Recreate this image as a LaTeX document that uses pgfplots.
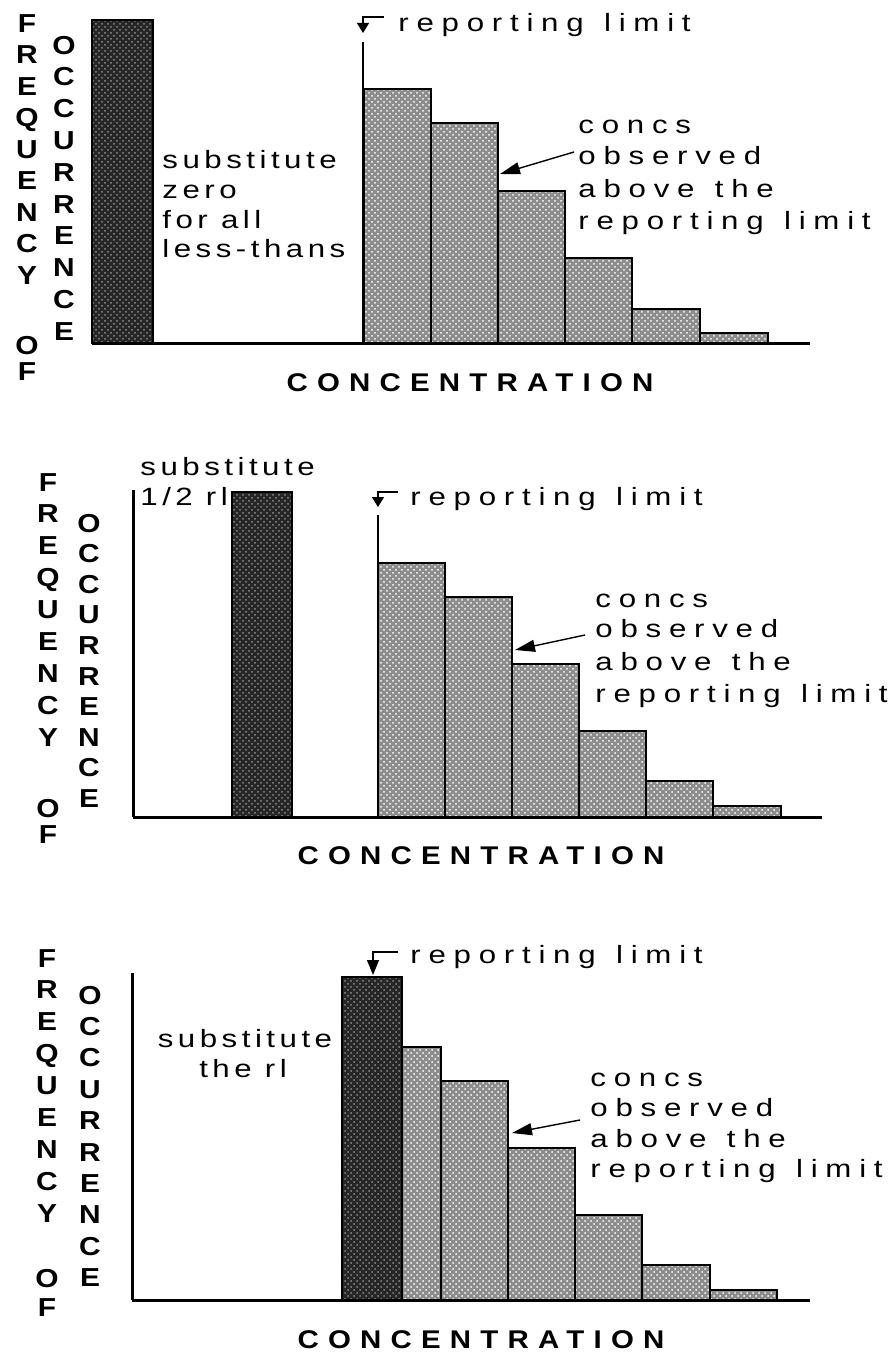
\documentclass[border=0pt]{standalone}
\usepackage{pgfplots}
\pgfplotsset{compat=1.18}
\usepackage{fontspec}
\setmainfont{Liberation Sans}[BoldFont={Liberation Sans Bold}]
\usetikzlibrary{patterns,arrows.meta}

% letter-spaced, slightly widened faces, as in the original figure
\newfontfamily\spA{Liberation Sans}[LetterSpace=31,FakeStretch=1.25]
\newfontfamily\spB{Liberation Sans}[LetterSpace=18,FakeStretch=1.25]
\newfontfamily\spC{Liberation Sans}[LetterSpace=36,FakeStretch=1.15,BoldFont={Liberation Sans Bold}]
\newfontfamily\spD{Liberation Sans}[FakeStretch=1.15,BoldFont={Liberation Sans Bold}]
\newcommand\rt{\fontsize{12.5}{14}\selectfont}
\newcommand\lbl{\spD\bfseries\fontsize{13}{15}\selectfont}
\newcommand\ws{\hspace{2pt} }

% text line inside an axis (axis units = image pixels)
\newcommand\tx[4][spA]{\node[anchor=base west,inner sep=0,font=\csname #1\endcsname\rt] at (axis cs:#2,#3) {#4};}
% stacked y label letters (image pixels, y downwards)
\newcommand\vlab[4]{\foreach \l [count=\i from 0] in {#4} {\node[anchor=base,inner sep=0,font=\lbl] at ({#1*0.5pt},{-(#2+9+\i*#3)*0.5pt}) {\l};}}

\tikzset{
  rlarrow/.style={line width=0.6pt, -{Triangle[length=5pt,width=6pt]}},
  obsarrow/.style={line width=0.7pt, -{Triangle[length=10pt,width=6pt]}},
  conc/.style={anchor=base, inner sep=0, font=\spC\bfseries\fontsize{12.8}{14}\selectfont},
}
\pgfplotsset{
  panel/.style={scale only axis, clip=false, anchor=south west,
    ymin=0, ymax=327, height=163.5pt,
    axis x line=bottom, axis y line=left,
    axis line style={-, line width=1.5pt},
    xtick=\empty, ytick=\empty},
  lt/.style={ybar interval, draw=black, line width=0.75pt, fill=black!45,
    postaction={pattern=crosshatch dots, pattern color=white}},
  dk/.style={ybar interval, draw=black, line width=0.75pt, fill=black!85,
    postaction={pattern=crosshatch dots, pattern color=black!45}},
}

\begin{document}
\begin{tikzpicture}
\useasboundingbox (0,0) rectangle (447.5pt,-678pt);

% ---------- panel 1: substitute zero ----------
\begin{axis}[panel, at={(46pt,-171.5pt)}, width=359pt,
  xmin=-28, xmax=690, axis y line=none]
  \addplot[dk] coordinates {(-28,323) (33,323)};
  \addplot[lt] coordinates {(244,254) (311,220) (378,152) (445,85) (512,34) (580,10) (648,10)};
  \draw[line width=0.6pt] (axis cs:243,0) -- (axis cs:243,301);
  \draw[rlarrow] (axis cs:264,326) -- (axis cs:243,326) -- (axis cs:243,310);
  \tx{278}{311}{reporting\ws limit}
  \tx[spB]{42}{175}{substitute}
  \tx[spB]{42}{145}{zero}
  \tx[spB]{42}{115}{for all}
  \tx[spB]{42}{86}{less-thans}
  \tx{458}{210}{concs}
  \tx{458}{179}{observed}
  \tx{458}{146}{above\ws the}
  \tx{458}{114}{reporting\ws limit}
  \draw[obsarrow] (axis cs:454,191) -- (axis cs:380,169);
  \node[conc] at (axis cs:350,-48) {CONCENTRATION};
\end{axis}
\vlab{27}{23}{31.5}{F,R,E,Q,U,E,N,C,Y}
\vlab{27}{345}{26}{O,F}
\vlab{64}{45}{31.8}{O,C,C,U,R,R,E,N,C,E}

% ---------- panel 2: substitute 1/2 rl ----------
\begin{axis}[panel, at={(66.5pt,-408.5pt)}, width=344.5pt,
  xmin=0, xmax=689]
  \addplot[dk] coordinates {(99,325) (159,325)};
  \addplot[lt] coordinates {(245,254) (312,220) (379,153) (446,86) (513,36) (580,11) (648,11)};
  \draw[line width=0.6pt] (axis cs:245,0) -- (axis cs:245,302);
  \draw[rlarrow] (axis cs:265,325) -- (axis cs:245,325) -- (axis cs:245,310);
  \tx{277}{312}{reporting\ws limit}
  \tx[spB]{7}{342}{substitute}
  \tx[spB]{7}{312}{1/2 rl}
  \tx{462}{210}{concs}
  \tx{462}{180}{observed}
  \tx{462}{147}{above\ws the}
  \tx{462}{115}{reporting\ws limit}
  \draw[obsarrow] (axis cs:452,182) -- (axis cs:382,167);
  \node[conc] at (axis cs:348,-47) {CONCENTRATION};
\end{axis}
\vlab{48}{482}{31.9}{F,R,E,Q,U,E,N,C,Y}
\vlab{48}{808}{26}{O,F}
\vlab{89}{523}{30.6}{O,C,C,U,R,R,E,N,C,E}

% ---------- panel 3: substitute the rl ----------
\begin{axis}[panel, at={(66pt,-650pt)}, width=339pt,
  xmin=0, xmax=678]
  \addplot[lt] coordinates {(242,253) (309,219) (376,152) (443,85) (510,35) (578,10) (645,10)};
  \addplot[dk] coordinates {(210,323) (270,323)};
  \draw[line width=0.6pt, -{Triangle[length=7.5pt,width=6pt]}] (axis cs:266,348) -- (axis cs:241,348) -- (axis cs:241,325);
  \tx{278}{337}{reporting\ws limit}
  \node[anchor=base,inner sep=0,font=\spB\rt] at (axis cs:113,253) {substitute};
  \node[anchor=base,inner sep=0,font=\spB\rt] at (axis cs:111,223) {the rl};
  \tx{458}{214}{concs}
  \tx{458}{184}{observed}
  \tx{458}{153}{above\ws the}
  \tx{458}{123}{reporting\ws limit}
  \draw[obsarrow] (axis cs:448,180) -- (axis cs:380,167);
  \node[conc] at (axis cs:349,-48) {CONCENTRATION};
\end{axis}
\vlab{47}{958}{31.9}{F,R,E,Q,U,E,N,C,Y}
\vlab{47}{1278}{29}{O,F}
\vlab{90}{995}{31.4}{O,C,C,U,R,R,E,N,C,E}
\end{tikzpicture}
\end{document}
